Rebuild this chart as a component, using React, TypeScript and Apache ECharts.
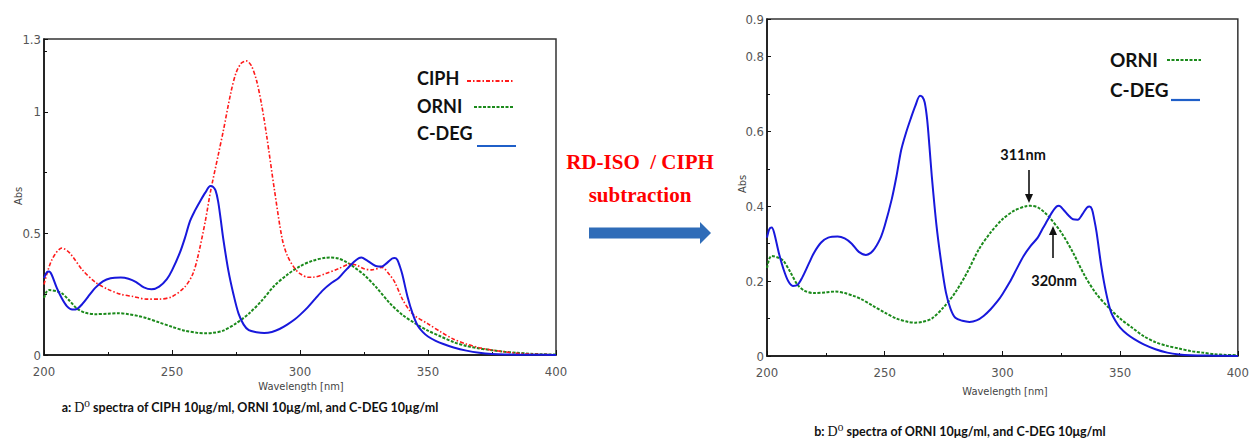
import React, { useEffect, useRef } from "react";
import * as echarts from "echarts";

// ---------- data ----------
const ciphWl = [200,203,207,210,215,220,225,230,235,240,245,250,255,258,260,263,265,268,270,273,275,277,279,281,283,285,287,290,293,295,298,300,303,305,310,315,320,322,325,328,332,335,337,340,343,345,350,355,360,365,370,375,380,385,390,395,400];
const ciphAbs = [0.29,0.39,0.44,0.42,0.35,0.30,0.27,0.25,0.24,0.23,0.23,0.24,0.28,0.33,0.40,0.55,0.67,0.82,0.92,1.08,1.16,1.20,1.21,1.19,1.13,1.03,0.90,0.68,0.48,0.41,0.355,0.335,0.32,0.32,0.335,0.355,0.375,0.37,0.355,0.35,0.36,0.33,0.30,0.23,0.18,0.16,0.128,0.095,0.065,0.045,0.03,0.02,0.013,0.007,0.004,0.002,0.001];

const orniWl = [200,201,202,205,207,210,213,216,220,225,229,233,237,240,245,250,255,260,263,266,270,275,280,285,290,295,300,305,310,312,315,318,320,325,330,335,340,345,350,355,360,365,370,375,380,385,390,395,400];
const orniAbs = [0.235,0.26,0.267,0.262,0.254,0.223,0.19,0.174,0.168,0.17,0.172,0.168,0.16,0.152,0.134,0.116,0.10,0.091,0.089,0.091,0.10,0.13,0.17,0.223,0.285,0.33,0.365,0.388,0.40,0.401,0.397,0.383,0.37,0.33,0.276,0.214,0.165,0.13,0.10,0.076,0.053,0.037,0.027,0.02,0.013,0.009,0.005,0.003,0.002];

const cdegWl = [200,201,202,203,205,207,209,211,213,215,218,220,223,226,230,233,236,239,242,245,248,250,253,255,257,259,261,263,265,266,267,268,269,270,272,274,276,278,280,283,286,289,292,295,298,300,303,306,309,312,315,317,319,321,323,324,326,328,330,332,334,336,337,338,339,340,342,344,346,348,350,353,356,360,365,370,375,380,390,400];
const cdegAbs = [0.316,0.339,0.343,0.33,0.276,0.232,0.20,0.187,0.19,0.21,0.25,0.276,0.303,0.316,0.319,0.314,0.30,0.278,0.27,0.281,0.312,0.348,0.419,0.48,0.55,0.595,0.633,0.668,0.695,0.692,0.677,0.633,0.56,0.48,0.348,0.25,0.17,0.125,0.102,0.094,0.091,0.095,0.107,0.125,0.147,0.165,0.196,0.232,0.267,0.294,0.316,0.339,0.361,0.383,0.399,0.401,0.39,0.376,0.365,0.364,0.379,0.397,0.399,0.392,0.365,0.33,0.24,0.17,0.12,0.094,0.076,0.058,0.045,0.031,0.018,0.009,0.004,0.002,0.001,0.0];

const xTicksMin = 200;
const xTicksMax = 400;
const leftYMax = 1.3;
const rightYMax = 0.9;

const legendLeft = ["CIPH", "ORNI", "C-DEG"];
const legendRight = ["ORNI", "C-DEG"];
const captionA = " spectra of CIPH 10μg/ml, ORNI 10μg/ml, and C-DEG 10μg/ml";
const captionB = " spectra of ORNI 10μg/ml, and C-DEG 10μg/ml";

// ---------- styles ----------
const NARROW = '"Liberation Sans Narrow", "Arial Narrow", "DejaVu Sans Condensed", sans-serif';
const CAL = 'Lato, "Noto Sans", sans-serif';
const SERIF = '"Liberation Serif", "DejaVu Serif", serif';
const RED = "#ff1a1a";
const GREEN = "#1b8a1b";
const BLUE = "#1818dc";

const zip = (a: number[], b: number[]) => a.map((x, i) => [x, b[i]]);

export default function App() {
  const ref = useRef<HTMLDivElement>(null);
  useEffect(() => {
    document.body.style.margin = "0";
    const chart = echarts.init(ref.current!, null, { renderer: "svg" });

    const xAxisBase = (gi: number) => ({
      type: "value",
      gridIndex: gi,
      min: xTicksMin,
      max: xTicksMax,
      interval: 50,
      axisLine: { show: true, lineStyle: { color: "#111", width: 1.5 } },
      axisTick: { show: true, inside: true, length: 5, lineStyle: { color: "#111" } },
      minorTick: { show: true, splitNumber: 2, length: 3, lineStyle: { color: "#111" } },
      splitLine: { show: false },
      axisLabel: { color: "#555", fontSize: 13, fontFamily: NARROW, margin: 10 },
    });
    const yAxisBase = (gi: number, max: number, interval: number) => ({
      type: "value",
      gridIndex: gi,
      min: 0,
      max,
      interval,
      axisLine: { show: true, lineStyle: { color: "#111", width: 1.5 } },
      axisTick: { show: true, inside: true, length: 4, lineStyle: { color: "#111" } },
      minorTick: { show: true, splitNumber: 2, length: 3, lineStyle: { color: "#111" } },
      splitLine: { show: false },
      axisLabel: {
        color: "#555",
        fontSize: 13,
        fontFamily: NARROW,
        margin: 3,
        formatter: (v: number) => String(+v.toFixed(2)),
      },
    });

    const lineSeries = (name: string, xi: number, data: number[][], color: string, type: any, width: number) => ({
      type: "line",
      name,
      xAxisIndex: xi,
      yAxisIndex: xi,
      data,
      smooth: 0.3,
      symbol: "none",
      lineStyle: { color, type, width },
    });

    const txt = (text: string, x: number, y: number, opts: any = {}) => ({
      type: "text",
      x,
      y,
      rotation: opts.rotation || 0,
      style: {
        text,
        fill: opts.fill || "#111",
        fontSize: opts.fontSize || 18,
        fontWeight: opts.fontWeight || "bold",
        fontFamily: opts.fontFamily || CAL,
        textAlign: opts.align || "left",
        textVerticalAlign: "middle",
        align: opts.align || "left",
        verticalAlign: "middle",
        rich: opts.rich,
      },
    });
    const seg = (x1: number, y1: number, x2: number, y2: number, stroke: string, lineDash: any, lineWidth = 2) => ({
      type: "line",
      shape: { x1, y1, x2, y2 },
      style: { stroke, lineWidth, lineDash },
    });

    const captionRich = {
      a: { fontSize: 12.5, fontWeight: "bold", fontFamily: CAL, fill: "#111" },
      d: { fontSize: 14, fontFamily: SERIF, fill: "#111" },
    };
    const axName = { fontSize: 11, fontWeight: "normal", fontFamily: NARROW, fill: "#444" };

    chart.setOption({
      animation: false,
      backgroundColor: "#fff",
      grid: [
        { left: 44, top: 39, width: 512, height: 316, show: true, borderColor: "#333", borderWidth: 1.5, backgroundColor: "#fff" },
        { left: 767, top: 19, width: 476, height: 337, show: true, borderColor: "#333", borderWidth: 1.5, backgroundColor: "#fff" },
      ],
      xAxis: [xAxisBase(0), xAxisBase(1)],
      yAxis: [yAxisBase(0, leftYMax, 0.5), yAxisBase(1, rightYMax, 0.2)],
      series: [
        lineSeries("ORNI", 0, zip(orniWl, orniAbs), GREEN, [3, 1.5], 2),
        lineSeries("CIPH", 0, zip(ciphWl, ciphAbs), RED, [4, 2, 1.5, 2], 1.6),
        lineSeries("C-DEG", 0, zip(cdegWl, cdegAbs), BLUE, "solid", 2),
        lineSeries("ORNI", 1, zip(orniWl, orniAbs), GREEN, [3, 1.5], 2),
        lineSeries("C-DEG", 1, zip(cdegWl, cdegAbs), BLUE, "solid", 2),
      ],
      graphic: [
        // axis names
        txt("Abs", 18, 196, { rotation: Math.PI / 2, align: "center", ...axName }),
        txt("Wavelength [nm]", 301, 386, { align: "center", ...axName }),
        txt("Abs", 742, 184, { rotation: Math.PI / 2, align: "center", ...axName }),
        txt("Wavelength [nm]", 1005, 391, { align: "center", ...axName }),
        // left legend
        txt(legendLeft[0], 417, 78),
        seg(467, 81, 513, 81, RED, [4, 2, 1.5, 2], 2),
        txt(legendLeft[1], 417, 106),
        seg(474, 107, 514, 107, GREEN, [3, 1.5], 2),
        txt(legendLeft[2], 417, 133),
        seg(477, 146, 516, 146, "#1f5fc8", null, 2.2),
        // right legend
        txt(legendRight[0], 1110, 59, { fontSize: 19 }),
        seg(1167, 60, 1201, 60, GREEN, [3, 1.5], 2),
        txt(legendRight[1], 1110, 89, { fontSize: 19 }),
        seg(1171, 100, 1200, 100, "#1f5fc8", null, 2.2),
        // annotations
        txt("311nm", 1023, 154, { align: "center", fontSize: 14.5 }),
        seg(1029, 170, 1029, 196, "#111", null, 1.6),
        { type: "polygon", shape: { points: [[1025, 194], [1033, 194], [1029, 203]] }, style: { fill: "#111" } },
        txt("320nm", 1054, 280, { align: "center", fontSize: 14.5 }),
        seg(1053, 258, 1053, 233, "#111", null, 1.6),
        { type: "polygon", shape: { points: [[1049, 235], [1057, 235], [1053, 226]] }, style: { fill: "#111" } },
        // middle text & arrow
        txt("RD-ISO  / CIPH", 640, 162, { align: "center", fontSize: 21, fontFamily: SERIF, fill: "#ff0000" }),
        txt("subtraction", 640, 195, { align: "center", fontSize: 21, fontFamily: SERIF, fill: "#ff0000" }),
        { type: "rect", shape: { x: 589, y: 227.5, width: 112, height: 11 }, style: { fill: "#2f6cb8" } },
        { type: "polygon", shape: { points: [[700, 222], [711, 233], [700, 244]] }, style: { fill: "#2f6cb8" } },
        // captions
        txt("{a|a: }{d|D⁰}{a|" + captionA + "}", 250, 407, { align: "center", rich: captionRich }),
        txt("{a|b: }{d|D⁰}{a|" + captionB + "}", 960, 431, { align: "center", rich: captionRich }),
      ],
    });
    return () => chart.dispose();
  }, []);
  return <div ref={ref} style={{ position: "absolute", left: 0, top: 0, width: 1252, height: 440 }} />;
}
